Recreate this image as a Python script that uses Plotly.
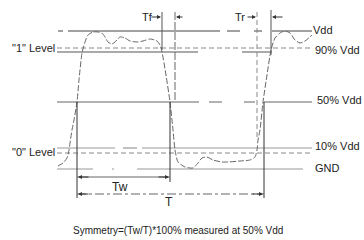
import plotly.graph_objects as go

# Waveform (diagram units: x right, y down)
wave_x = [58, 63, 67, 69, 70, 72, 74, 77, 79, 82, 85, 88, 93, 98, 103, 108, 112, 115, 120, 125, 130, 137,
          143, 150, 157, 160, 162, 166, 170, 173, 175, 178, 185, 193, 198, 202, 207, 213, 222, 228, 240,
          250, 255, 257, 258, 260, 263, 267, 271, 275, 280, 285, 290, 295, 300, 305, 312]
wave_y = [166, 163, 158, 150, 143, 130, 120, 102, 80, 53, 42, 35, 32, 32, 34, 42, 44, 42, 37, 38, 41, 42,
          41, 39, 41, 45, 52, 75, 102, 130, 150, 162, 167, 168, 163, 158, 157, 160, 162, 162, 161,
          160, 157, 150, 140, 130, 102, 75, 50, 38, 33, 31, 33, 40, 43, 41, 35]

# Reference levels
level_names = ["Vdd", "one", "p90", "p50", "p10", "zero", "GND"]
level_y = [31, 48, 52, 102, 148, 153, 169]
level_segments = [
    [(58, 63), (68, 220), (227, 240), (254, 262), (272, 312)],
    [(57, 310)],
    [(57, 198), (242, 272)],
    [(57, 199), (209, 222), (244, 255), (264, 312)],
    [(57, 115), (123, 137), (142, 312)],
    [(57, 310)],
    [(57, 93), (112, 114), (137, 303)],
]
level_styles = [
    dict(color="#444", width=1, dash="solid"),
    dict(color="#888", width=1, dash="5px,3px"),
    dict(color="#aaa", width=2, dash="solid"),
    dict(color="#999", width=1.5, dash="solid"),
    dict(color="#999", width=1.2, dash="solid"),
    dict(color="#888", width=1, dash="5px,3px"),
    dict(color="#999", width=1.2, dash="solid"),
]

# Timing markers
vline_x = [162, 175, 257, 271, 77, 170, 264]
vline_y0 = [12, 12, 12, 10, 102, 102, 102]
vline_y1 = [50, 100, 140, 55, 198, 182, 198]
vline_styles = [
    dict(color="#555", width=1, dash="solid"),
    dict(color="#666", width=1, dash="8px,2px"),
    dict(color="#888", width=1, dash="5px,3px"),
    dict(color="#555", width=1, dash="solid"),
    dict(color="#333", width=1, dash="solid"),
    dict(color="#333", width=1, dash="solid"),
    dict(color="#333", width=1, dash="solid"),
]

labels = ["Vdd", "90% Vdd", "50% Vdd", "10% Vdd", "GND", '"1" Level', '"0" Level',
          "Tf", "Tr", "Tw", "T", "Symmetry=(Tw/T)*100% measured at 50% Vdd"]
label_x = [312, 314, 316, 314, 314, 11, 11, 141, 234, 111, 164, 178]
label_y = [30, 50, 100, 146, 168, 48, 152, 17, 17, 187, 202, 230]
label_anchor = ["left"] * 7 + ["left", "left", "left", "left", "center"]
label_size = [11, 11, 11, 11, 11, 11, 11, 11, 11, 12, 12, 10]

fig = go.Figure()

fig.add_trace(go.Scatter(x=wave_x, y=wave_y, mode="lines",
                         line=dict(color="#666", width=1, shape="spline", smoothing=0.6, dash="6px,2px"),
                         hoverinfo="skip", showlegend=False))

shapes = []
for y, segs, st in zip(level_y, level_segments, level_styles):
    for (a, b) in segs:
        shapes.append(dict(type="line", x0=a, x1=b, y0=y, y1=y, xref="x", yref="y", line=st, layer="below"))
for x, y0, y1, st in zip(vline_x, vline_y0, vline_y1, vline_styles):
    shapes.append(dict(type="line", x0=x, x1=x, y0=y0, y1=y1, xref="x", yref="y", line=st))
# Tw and T dimension lines
shapes.append(dict(type="line", x0=77, x1=170, y0=177, y1=177, line=dict(color="#666", width=1)))
shapes.append(dict(type="line", x0=77, x1=264, y0=194, y1=194, line=dict(color="#666", width=1, dash="dashdot")))

annotations = []
for t, x, y, anc, sz in zip(labels, label_x, label_y, label_anchor, label_size):
    annotations.append(dict(text=t, x=x, y=y, xref="x", yref="y", showarrow=False, xanchor=anc,
                            yanchor="middle", borderpad=0,
                            font=dict(family="Liberation Sans, Arial", size=sz, color="#222")))

# arrows: tip x, tail x, shared y
arrow_tip_x = [161, 176, 256, 272, 78, 169, 78, 263]
arrow_tail_x = [150, 184, 246, 284, 90, 157, 90, 251]
arrow_y = [17, 17, 17, 17, 177, 177, 194, 194]
for tx, ax, ay in zip(arrow_tip_x, arrow_tail_x, arrow_y):
    annotations.append(dict(x=tx, y=ay, ax=ax, ay=ay, xref="x", yref="y", axref="x", ayref="y",
                            showarrow=True, arrowhead=2, arrowsize=0.8, arrowwidth=1, arrowcolor="#333", text=""))

fig.update_layout(
    width=364, height=240, margin=dict(l=0, r=0, t=0, b=0, autoexpand=False),
    paper_bgcolor="white", plot_bgcolor="white",
    xaxis=dict(range=[0, 364], visible=False, fixedrange=True),
    yaxis=dict(range=[240, 0], visible=False, fixedrange=True),
    shapes=shapes, annotations=annotations, showlegend=False,
)

fig.write_html("out.html", config={"staticPlot": True},
               post_script="document.body.style.margin='0';document.body.style.overflow='hidden';")
